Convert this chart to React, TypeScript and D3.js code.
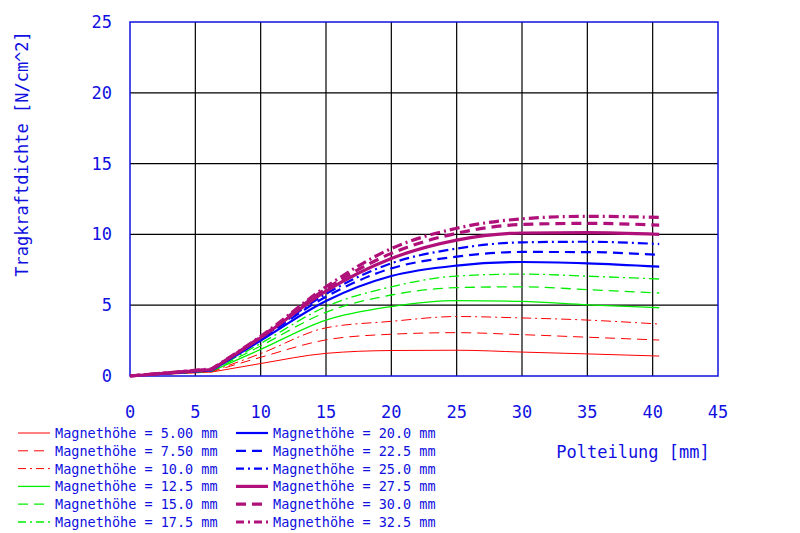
import React from 'react';
import * as d3 from 'd3';

// Polteilung [mm]
const polteilung = [0, 6.25, 10, 15, 20, 25, 30, 35, 40.5];

// Magnethöhe labels
const hoehen = ['5.00', '7.50', '10.0', '12.5', '15.0', '17.5', '20.0', '22.5', '25.0', '27.5', '30.0', '32.5'];

// Tragkraftdichte [N/cm^2] per Magnethöhe
const h500 = [0, 0.28, 0.88, 1.6, 1.8, 1.82, 1.69, 1.56, 1.41];
const h750 = [0, 0.3, 1.32, 2.55, 2.95, 3.06, 2.92, 2.74, 2.54];
const h100 = [0, 0.32, 1.58, 3.4, 3.86, 4.2, 4.1, 3.95, 3.67];
const h125 = [0, 0.34, 1.88, 3.95, 4.9, 5.32, 5.27, 5.03, 4.82];
const h150 = [0, 0.36, 2.12, 4.5, 5.72, 6.24, 6.3, 6.1, 5.86];
const h175 = [0, 0.38, 2.3, 4.9, 6.3, 7.06, 7.2, 7.05, 6.85];
const h200 = [0, 0.4, 2.5, 5.3, 7.06, 7.8, 8.05, 7.95, 7.72];
const h225 = [0, 0.42, 2.6, 5.6, 7.6, 8.43, 8.76, 8.75, 8.55];
const h250 = [0, 0.44, 2.65, 5.8, 7.96, 9.0, 9.44, 9.48, 9.32];
const h275 = [0, 0.46, 2.7, 6.0, 8.3, 9.6, 10.1, 10.12, 10.0];
const h300 = [0, 0.48, 2.75, 6.15, 8.66, 10.08, 10.7, 10.78, 10.66];
const h325 = [0, 0.5, 2.8, 6.3, 9.0, 10.43, 11.1, 11.28, 11.2];

const serien = [h500, h750, h100, h125, h150, h175, h200, h225, h250, h275, h300, h325];

const xTicks = [0, 5, 10, 15, 20, 25, 30, 35, 40, 45];
const yTicks = [0, 5, 10, 15, 20, 25];

const farben = ['#ff0000', '#00ee00', '#0000ff', '#b0107a'];
const breiten = [1, 1.3, 2.2, 3.2];
const muster = [null, '10,6', '10,4,2,4'];

const font = "'DejaVu Sans Mono', monospace";
const blau = '#1010e0';

const App: React.FC = () => {
    const width = 800;
    const height = 533;
    const left = 130, right = 718, top = 22, bottom = 376;

    const x = d3.scaleLinear().domain([0, 45]).range([left, right]);
    const y = d3.scaleLinear().domain([0, 25]).range([bottom, top]);

    const kurve = d3.line<[number, number]>()
        .x(d => x(d[0]))
        .y(d => y(d[1]))
        .curve(d3.curveMonotoneX);

    // erstes Segment gerade, danach glatt
    const pfad = (werte: number[]) => {
        const pts: [number, number][] = polteilung.map((p, i) => [p, werte[i]]);
        const rest = kurve(pts.slice(1)) || '';
        return `M${x(pts[0][0])},${y(pts[0][1])}L` + rest.slice(1);
    };

    return (
        <svg width={width} height={height} style={{position: 'absolute', left: 0, top: 0, background: '#fff'}}>
            {/* Gitter */}
            {xTicks.slice(1, -1).map(t => (
                <line key={'gx' + t} x1={x(t)} x2={x(t)} y1={top} y2={bottom} stroke="#000" strokeWidth={1.2}/>
            ))}
            {yTicks.slice(1, -1).map(t => (
                <line key={'gy' + t} x1={left} x2={right} y1={y(t)} y2={y(t)} stroke="#000" strokeWidth={1.2}/>
            ))}
            <rect x={left} y={top} width={right - left} height={bottom - top} fill="none" stroke={blau} strokeWidth={1.5}/>

            {/* Kurven */}
            {serien.map((s, i) => {
                const g = Math.floor(i / 3);
                const m = muster[i % 3];
                return (
                    <path key={'s' + i} d={pfad(s)} fill="none" stroke={farben[g]} strokeWidth={breiten[g]}
                          strokeDasharray={m || undefined}/>
                );
            })}

            {/* Achsenbeschriftung */}
            {xTicks.map(t => (
                <text key={'tx' + t} x={x(t)} y={418} textAnchor="middle" fontFamily={font} fontSize={17}
                      fill={blau}>{t}</text>
            ))}
            {yTicks.map(t => (
                <text key={'ty' + t} x={112} y={y(t) + 6} textAnchor="end" fontFamily={font} fontSize={17}
                      fill={blau}>{t}</text>
            ))}
            <text x={633} y={458} textAnchor="middle" fontFamily={font} fontSize={17} fill={blau}>Polteilung [mm]</text>
            <text transform={`translate(28,154) rotate(-90)`} textAnchor="middle" fontFamily={font} fontSize={17}
                  fill={blau}>Tragkraftdichte [N/cm^2]</text>

            {/* Legende */}
            {hoehen.map((h, i) => {
                const g = Math.floor(i / 3);
                const m = muster[i % 3];
                const col = Math.floor(i / 6);
                const row = i % 6;
                const lx = col === 0 ? 18 : 236;
                const ly = 433 + row * 17.8;
                return (
                    <g key={'l' + i}>
                        <line x1={lx} x2={lx + 32} y1={ly} y2={ly} stroke={farben[g]} strokeWidth={breiten[g]}
                              strokeDasharray={m ? (i % 3 === 1 ? '10,6' : '8,4,2,4') : undefined}/>
                        <text x={lx + 37} y={ly + 5} fontFamily={font} fontSize={13.5} fill={blau}>
                            {`Magnethöhe = ${h} mm`}
                        </text>
                    </g>
                );
            })}
        </svg>
    );
};

export default App;
